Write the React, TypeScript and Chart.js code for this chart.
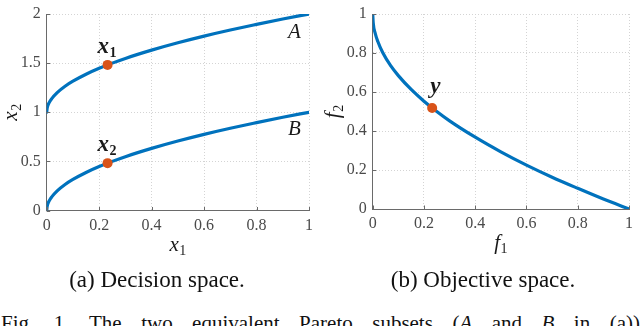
import React, { useEffect, useRef } from "react";
import { Chart, registerables } from "chart.js";

Chart.register(...registerables);

// ---- data ----
const x1Values = [0, 0.002, 0.01, 0.02, 0.04, 0.07, 0.1, 0.15, 0.2, 0.25, 0.3, 0.4, 0.5, 0.6, 0.7, 0.8, 0.9, 1.0];
const subsetA = [1, 1.045, 1.1, 1.141, 1.2, 1.265, 1.316, 1.387, 1.447, 1.5, 1.548, 1.632, 1.707, 1.775, 1.837, 1.894, 1.949, 2];
const subsetB = [0, 0.045, 0.1, 0.141, 0.2, 0.265, 0.316, 0.387, 0.447, 0.5, 0.548, 0.632, 0.707, 0.775, 0.837, 0.894, 0.949, 1];
const f1Values = [0, 0.002, 0.01, 0.02, 0.04, 0.07, 0.1, 0.15, 0.2, 0.25, 0.3, 0.4, 0.5, 0.6, 0.7, 0.8, 0.9, 1.0];
const f2Values = [1, 0.955, 0.9, 0.859, 0.8, 0.735, 0.684, 0.613, 0.553, 0.5, 0.452, 0.368, 0.293, 0.225, 0.163, 0.106, 0.051, 0];

const decisionPointX = [0.232, 0.232];
const decisionPointY = [1.482, 0.482];
const decisionPointNames = ["1", "2"];
const objectivePointX = [0.232];
const objectivePointY = [0.518];

const curveNames = ["A", "B"];
const curveNameX = [0.92, 0.92];
const curveNameY = [1.754, 0.768];

const xTicks = [0, 0.2, 0.4, 0.6, 0.8, 1];
const leftYTicks = [0, 0.5, 1, 1.5, 2];
const rightYTicks = [0, 0.2, 0.4, 0.6, 0.8, 1];

const captionA = "(a) Decision space.";
const captionB = "(b) Objective space.";
const figWords = ["Fig.", "1.", "The", "two", "equivalent", "Pareto", "subsets", "(A", "and", "B", "in", "(a))"];

// ---- styles ----
const SERIF = "'Times New Roman', 'Liberation Serif'";
const BLUE = "#0072BD";
const ORANGE = "#D95319";
const AXIS = "#6a6a6a";
const GRID = "#d4d4d4";
const TICK_TEXT = "#4a4a4a";
const TEXT = "#1a1a1a";

function drawSub(ctx: CanvasRenderingContext2D, main: string, sub: string, x: number, y: number, mainFont: string, subFont: string) {
  ctx.font = mainFont;
  ctx.textAlign = "left";
  ctx.textBaseline = "alphabetic";
  ctx.fillText(main, x, y);
  const w = ctx.measureText(main).width;
  ctx.font = subFont;
  ctx.fillText(sub, x + w + 0.5, y + 4);
  return w + 0.5 + ctx.measureText(sub).width;
}

function measureSub(ctx: CanvasRenderingContext2D, main: string, sub: string, mainFont: string, subFont: string) {
  ctx.font = mainFont;
  const w = ctx.measureText(main).width;
  ctx.font = subFont;
  return w + 0.5 + ctx.measureText(sub).width;
}

function drawInwardTicks(chart: any, xt: number[], yt: number[]) {
  const { ctx, chartArea, scales } = chart;
  ctx.save();
  ctx.strokeStyle = AXIS;
  ctx.lineWidth = 1;
  ctx.beginPath();
  for (const t of xt) {
    const px = Math.round(scales.x.getPixelForValue(t)) + 0.5;
    ctx.moveTo(px, chartArea.bottom);
    ctx.lineTo(px, chartArea.bottom - 3.5);
  }
  for (const t of yt) {
    const py = Math.round(scales.y.getPixelForValue(t)) + 0.5;
    ctx.moveTo(chartArea.left, py);
    ctx.lineTo(chartArea.left + 3.5, py);
  }
  ctx.stroke();
  ctx.restore();
}

function axisTitles(chart: any, xMain: string, xSub: string, yMain: string, ySub: string, xBase: number, yBaseX: number) {
  const { ctx, chartArea } = chart;
  const mf = `italic 21px ${SERIF}`;
  const sf = `14px ${SERIF}`;
  ctx.save();
  ctx.fillStyle = TEXT;
  const cx = (chartArea.left + chartArea.right) / 2;
  const wx = measureSub(ctx, xMain, xSub, mf, sf);
  drawSub(ctx, xMain, xSub, cx - wx / 2, xBase, mf, sf);
  const cy = (chartArea.top + chartArea.bottom) / 2;
  ctx.translate(yBaseX, cy);
  ctx.rotate(-Math.PI / 2);
  const wy = measureSub(ctx, yMain, ySub, mf, sf);
  drawSub(ctx, yMain, ySub, -wy / 2, 0, mf, sf);
  ctx.restore();
}

function scaleOpts(ticks: number[], min: number, max: number, isY: boolean, fitSize: number) {
  return {
    type: "linear" as const,
    min,
    max,
    afterBuildTicks: (s: any) => {
      s.ticks = ticks.map((v) => ({ value: v }));
    },
    afterFit: (s: any) => {
      if (isY) s.width = fitSize;
      else s.height = fitSize;
    },
    ticks: {
      color: TICK_TEXT,
      font: { family: SERIF, size: 16, lineHeight: 1 },
      padding: isY ? 6 : 7,
      maxRotation: 0,
      autoSkip: false,
      callback: (v: any) => String(v),
    },
    grid: { color: GRID, lineWidth: 1, drawTicks: false },
    border: { display: true, color: AXIS, width: 1, dash: [1, 2] },
  };
}

function makeLineDataset(xs: number[], ys: number[]) {
  return {
    type: "scatter" as const,
    data: xs.map((x, i) => ({ x, y: ys[i] })),
    showLine: true,
    borderColor: BLUE,
    borderWidth: 3.2,
    borderCapStyle: "round" as const,
    pointRadius: 0,
    cubicInterpolationMode: "monotone" as const,
    order: 2,
  };
}

function makePointDataset(xs: number[], ys: number[]) {
  return {
    type: "scatter" as const,
    data: xs.map((x, i) => ({ x, y: ys[i] })),
    showLine: false,
    pointRadius: 5,
    pointBackgroundColor: ORANGE,
    pointBorderWidth: 0,
    order: 0,
  };
}

export default function App() {
  const leftRef = useRef<HTMLCanvasElement>(null);
  const rightRef = useRef<HTMLCanvasElement>(null);

  useEffect(() => {
    const leftPlugin = {
      id: "leftOverlay",
      afterDatasetsDraw(chart: any) {
        drawInwardTicks(chart, xTicks, leftYTicks);
        const { ctx, scales } = chart;
        ctx.save();
        ctx.fillStyle = TEXT;
        decisionPointX.forEach((px, i) => {
          const X = scales.x.getPixelForValue(px);
          const Y = scales.y.getPixelForValue(decisionPointY[i]);
          drawSub(ctx, "x", decisionPointNames[i], X - 10, Y - 12, `bold italic 23px ${SERIF}`, `bold 14px ${SERIF}`);
        });
        ctx.font = `italic 21px ${SERIF}`;
        ctx.textAlign = "left";
        ctx.textBaseline = "alphabetic";
        curveNames.forEach((n, i) => {
          ctx.fillText(n, scales.x.getPixelForValue(curveNameX[i]), scales.y.getPixelForValue(curveNameY[i]));
        });
        ctx.restore();
        axisTitles(chart, "x", "1", "x", "2", 251, 17);
      },
    };
    const rightPlugin = {
      id: "rightOverlay",
      afterDatasetsDraw(chart: any) {
        drawInwardTicks(chart, xTicks, rightYTicks);
        const { ctx, scales } = chart;
        ctx.save();
        ctx.fillStyle = TEXT;
        objectivePointX.forEach((px, i) => {
          const X = scales.x.getPixelForValue(px);
          const Y = scales.y.getPixelForValue(objectivePointY[i]);
          ctx.font = `bold italic 23px ${SERIF}`;
          ctx.textAlign = "left";
          ctx.textBaseline = "alphabetic";
          ctx.fillText("y", X - 2, Y - 15);
        });
        ctx.restore();
        axisTitles(chart, "f", "1", "f", "2", 249, 19);
      },
    };

    const common = {
      responsive: false,
      animation: false as const,
      events: [] as any[],
      plugins: { legend: { display: false }, tooltip: { enabled: false } },
    };

    const left = new Chart(leftRef.current!, {
      type: "scatter",
      data: {
        datasets: [
          makePointDataset(decisionPointX, decisionPointY),
          makeLineDataset(x1Values, subsetA),
          makeLineDataset(x1Values, subsetB),
        ],
      },
      options: {
        ...common,
        layout: { padding: { left: 0, top: 7.5, right: 6.7, bottom: 19.5 } },
        scales: {
          x: scaleOpts(xTicks, 0, 1, false, 40),
          y: scaleOpts(leftYTicks, 0, 2, true, 46.7),
        },
      },
      plugins: [leftPlugin],
    } as any);

    const right = new Chart(rightRef.current!, {
      type: "scatter",
      data: {
        datasets: [
          makePointDataset(objectivePointX, objectivePointY),
          makeLineDataset(f1Values, f2Values),
        ],
      },
      options: {
        ...common,
        layout: { padding: { left: 0, top: 9, right: 5, bottom: 21 } },
        scales: {
          x: scaleOpts(xTicks, 0, 1, false, 40),
          y: scaleOpts(rightYTicks, 0, 1, true, 52.7),
        },
      },
      plugins: [rightPlugin],
    } as any);

    return () => {
      left.destroy();
      right.destroy();
    };
  }, []);

  const captionStyle: React.CSSProperties = {
    position: "absolute",
    top: 268,
    width: 320,
    textAlign: "center",
    fontFamily: SERIF,
    fontSize: 23,
    lineHeight: "23px",
    color: "#111",
    whiteSpace: "nowrap",
  };

  return (
    <div style={{ position: "fixed", left: 0, top: 0, width: 640, height: 326, overflow: "hidden", background: "#fff" }}>
      <canvas ref={leftRef} width={320} height={270} style={{ position: "absolute", left: 0, top: 0, display: "block" }} />
      <canvas ref={rightRef} width={320} height={270} style={{ position: "absolute", left: 320, top: 0, display: "block" }} />
      <div style={{ ...captionStyle, left: -3 }}>{captionA}</div>
      <div style={{ ...captionStyle, left: 323 }}>{captionB}</div>
      <div
        style={{
          position: "absolute",
          left: 1,
          top: 313,
          width: 639,
          display: "flex",
          justifyContent: "space-between",
          fontFamily: SERIF,
          fontSize: 21,
          lineHeight: "21px",
          color: "#111",
          whiteSpace: "nowrap",
        }}
      >
        {figWords.map((w, i) =>
          w === "(A" ? (
            <span key={i}>(<i>A</i></span>
          ) : w === "B" ? (
            <span key={i}><i>B</i></span>
          ) : (
            <span key={i}>{w}</span>
          )
        )}
      </div>
    </div>
  );
}
